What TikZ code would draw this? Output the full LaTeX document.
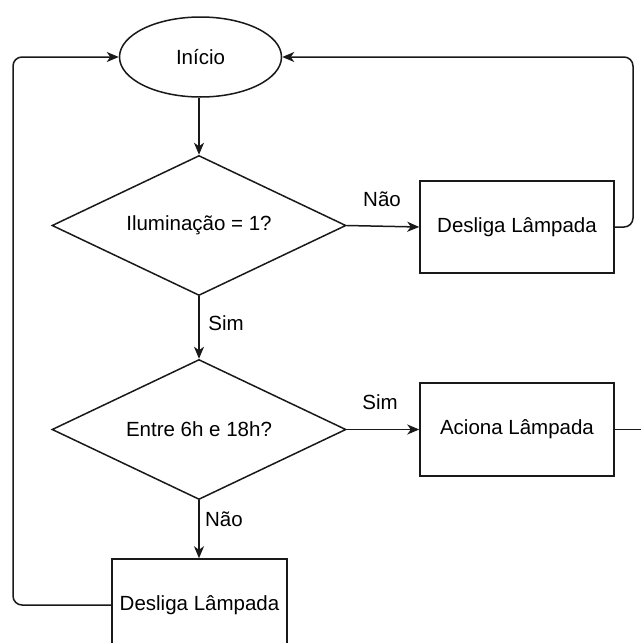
\documentclass[tikz,border=0pt]{standalone}
\usepackage{fontspec}
\setmainfont{Liberation Sans}
\usetikzlibrary{shapes.geometric,arrows.meta}
\begin{document}
\begin{tikzpicture}[x=1pt,y=-1pt,
  every node/.style={font=\fontsize{20.5}{24}\selectfont, text=black},
  line/.style={draw=black!90, line width=1.5pt},
  arr/.style={line, -{Stealth[length=12pt,width=10pt,inset=3.5pt]}},
  startbox/.style={ellipse, draw=black!90, line width=1.5pt, inner sep=0pt, minimum width=162pt, minimum height=80pt},
  decision/.style={diamond, draw=black!90, line width=1.5pt, inner sep=0pt, aspect=2.1, minimum width=294pt, minimum height=140pt},
  procbox/.style={rectangle, draw=black!90, line width=1.5pt, inner sep=0pt, minimum width=194pt, minimum height=92pt},
  lbl/.style={inner sep=0pt}
]
\useasboundingbox (0,0) rectangle (641,643);
\node[startbox] (start) at (200.5,57) {Início};
\node[decision] (d1) at (199,225.5) {Iluminação = 1?};
\node[procbox] (b1) at (517,227) {Desliga Lâmpada};
\node[decision] (d2) at (199,429.5) {Entre 6h e 18h?};
\node[procbox, minimum height=93pt] (b2) at (517,429.5) {Aciona Lâmpada};
\node[procbox, minimum width=175pt] (b3) at (199.5,605) {Desliga Lâmpada};
\coordinate (rend) at (641,429.5);
\coordinate (rtop) at (633,57);
\coordinate (rbot) at (633,227);
\coordinate (ltop) at (13,57);
\coordinate (lbot) at (13,605);

\node[lbl] (lnao1) at (382,199) {Não};
\node[lbl] (lsim1) at (226,323) {Sim};
\node[lbl] (lsim2) at (380,402) {Sim};
\node[lbl] (lnao2) at (224,519) {Não};

\draw[arr] (start.south -| d1.north) -- (d1.north);
\draw[arr] (d1.east) -- (b1.west);
\draw[arr, rounded corners=9pt] (b1.east) -- (rbot) -- (rtop) -- (start.east);
\draw[arr] (d1.south) -- (d2.north);
\draw[arr] (d2.east) -- (b2.west);
\draw[line] (b2.east) -- (rend);
\draw[arr] (d2.south) -- (b3.north -| d2.south);
\draw[arr, rounded corners=9pt] (b3.west) -- (lbot) -- (ltop) -- (start.west);
\end{tikzpicture}
\end{document}
